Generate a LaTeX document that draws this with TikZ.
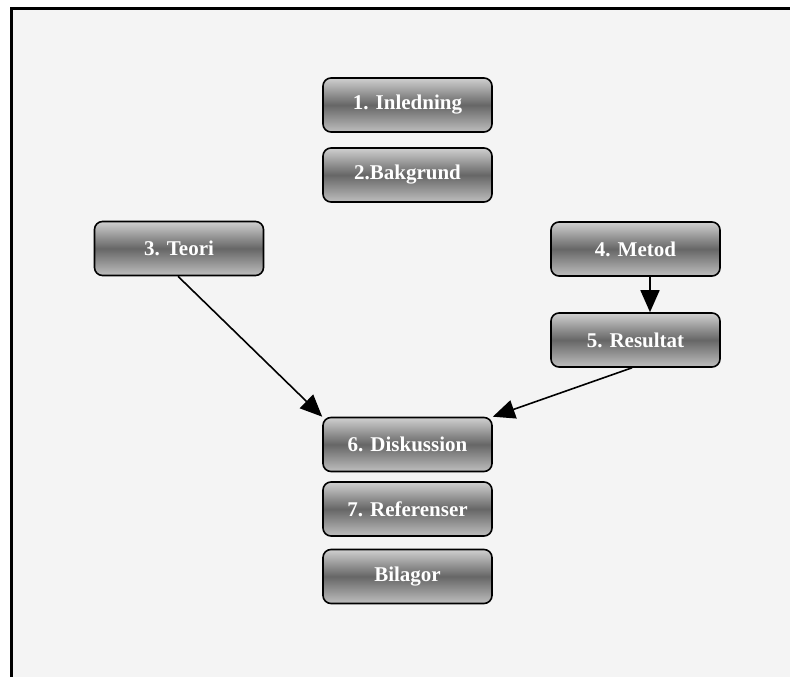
\documentclass[tikz,border=0pt]{standalone}
\usepackage{fontspec}
\setmainfont{Liberation Serif}
\usetikzlibrary{arrows.meta}
\definecolor{pagebg}{HTML}{F4F4F4}
\definecolor{boxtop}{HTML}{D0D0D0}
\definecolor{boxmid}{HTML}{666666}
\definecolor{boxbot}{HTML}{BEBEBE}
\tikzset{
  chapter/.style={draw=black, line width=1.6pt, rounded corners=8pt,
    minimum width=169pt, minimum height=54pt, inner sep=0pt,
    top color=boxtop, bottom color=boxbot, middle color=boxmid,
    text=white, font=\fontsize{21}{25}\selectfont\bfseries},
  flow/.style={line width=1.6pt, -{Triangle[length=22pt,width=19pt]}}
}
\begin{document}
\begin{tikzpicture}[x=1pt,y=-1pt]
\useasboundingbox (0,0) rectangle (790,677);
% page area with its frame
\fill[white] (0,0) rectangle (790,677);
\fill[pagebg] (11.5,8.5) rectangle (790,677);
\draw[line width=3pt] (11.5,680) -- (11.5,8.5) -- (795,8.5);
% chapters
\node[chapter] (inl) at (407.5,105) {1. Inledning};
\node[chapter] (bak) at (407.5,175) {2.Bakgrund};
\node[chapter] (teo) at (179,248.5) {3. Teori};
\node[chapter] (met) at (635.5,249) {4. Metod};
\node[chapter] (res) at (635.5,340) {5. Resultat};
\node[chapter] (dis) at (407.5,444.5) {6. Diskussion};
\node[chapter] (ref) at (407.5,509) {7. Referenser};
\node[chapter] (bil) at (407.5,576.5) {Bilagor};
% connectors
\draw[flow] (met.south -| 650,0) -- (res.north -| 650,0);
\draw[flow] (teo.south -| 178,0) -- (dis.north west);
\draw[flow] (res.south -| 632,0) -- (dis.north east);
\end{tikzpicture}
\end{document}
